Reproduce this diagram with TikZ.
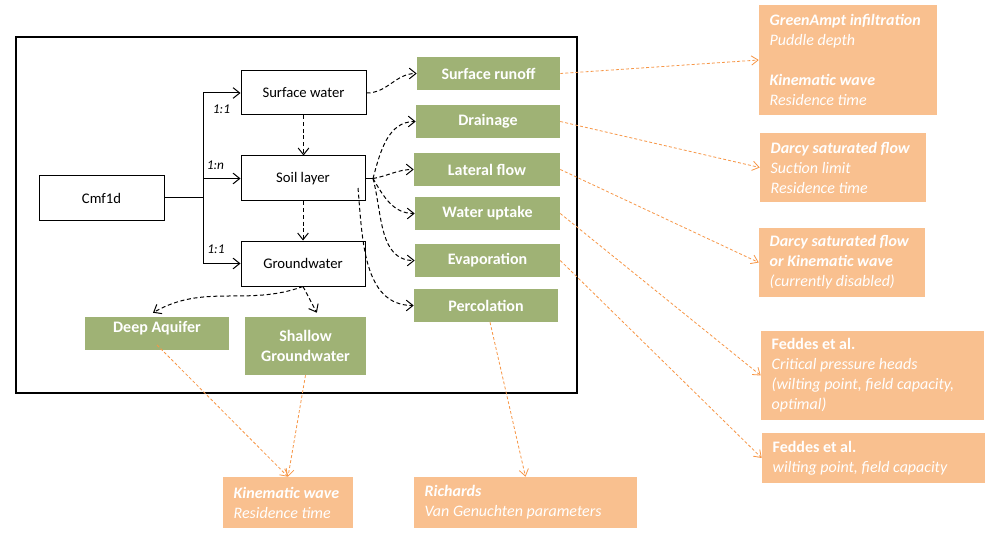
\documentclass[tikz,border=0pt]{standalone}
\usepackage{fontspec}
\setmainfont{Carlito}
\usetikzlibrary{arrows.meta,fit}
\definecolor{gfill}{HTML}{9FB275}
\definecolor{ofill}{HTML}{F9C08F}
\definecolor{oline}{HTML}{F79646}
\begin{document}
\begin{tikzpicture}[x=0.75pt,y=-0.75pt,
 bbox/.style={draw,line width=0.75pt,inner sep=0pt,font=\fontsize{11}{13}\selectfont},
 gbox/.style={fill=gfill,inner sep=0pt,text=white,font=\bfseries\fontsize{12}{15}\selectfont,align=center},
 gtext/.style={inner sep=0pt,text=white,font=\bfseries\fontsize{12}{15}\selectfont},
 obox/.style={fill=ofill,inner sep=0pt},
 otext/.style={text=white,font=\itshape\fontsize{12}{15}\selectfont,align=left,inner sep=0pt,anchor=west},
 lbl/.style={font=\itshape\fontsize{10}{12}\selectfont,inner sep=0pt},
 link/.style={line width=0.75pt,-{Straight Barb[length=5pt,width=8pt]}},
 dlink/.style={line width=0.75pt,dash pattern=on 3pt off 2pt,-{Straight Barb[length=5pt,width=8pt]}},
 olink/.style={oline,line width=0.6pt,dash pattern=on 2.2pt off 1.6pt,-{Straight Barb[length=5pt,width=7pt]}}
]
\fill[white] (0,0) rectangle (994,538);
\useasboundingbox (0,0) rectangle (994,538);

% frame
\node[draw,line width=1pt,inner sep=0pt,fit={(16,37)(577,393)}] (frame) {};

% black boxes
\node[bbox,minimum width=93.75pt,minimum height=33pt] (cmf) at (101.5,198) {Cmf1d};
\node[bbox,minimum width=93.75pt,minimum height=33pt] (sw) at (303.5,93) {Surface water};
\node[bbox,minimum width=93pt,minimum height=33.75pt] (soil) at (303,178.5) {Soil layer};
\node[bbox,minimum width=93pt,minimum height=33.75pt] (gw) at (303,263.5) {Groundwater};

\node[lbl] (r1) at (221.5,109) {1:1};
\node[lbl] (r2) at (215.5,165) {1:n};
\node[lbl] (r3) at (216,249) {1:1};

% green boxes
\node[gbox,minimum width=107.25pt,minimum height=24.75pt] (runoff) at (488.5,73.5) {Surface runoff};
\node[gbox,minimum width=108pt,minimum height=24.75pt] (drain) at (488,121.5) {Drainage};
\node[gbox,minimum width=109.5pt,minimum height=24.75pt] (lateral) at (487,169.5) {Lateral flow};
\node[gbox,minimum width=108.75pt,minimum height=24.75pt] (uptake) at (487.5,213.5) {Water uptake};
\node[gbox,minimum width=108.75pt,minimum height=24.75pt] (evap) at (487.5,260.5) {Evaporation};
\node[gbox,minimum width=108pt,minimum height=24.75pt] (perc) at (486,305.5) {Percolation};
\node[gbox,fit={(85,317)(229,350)}] (deep) {};
\node[gtext] (deeptxt) at (157,328) {Deep Aquifer};
\node[gbox,minimum width=90.75pt,minimum height=43.5pt] (shallow) at (305.5,346) {Shallow\\Groundwater};

% orange boxes
\node[obox,fit={(759,5)(937,115)}] (o1) {};
\node[otext] (t1) at ([xshift=8pt]o1.west) {\textbf{GreenAmpt infiltration}\\Puddle depth\\[15pt]\textbf{Kinematic wave}\\Residence time};
\node[obox,fit={(760,133)(926,202)}] (o2) {};
\node[otext] (t2) at ([xshift=8pt]o2.west) {\textbf{Darcy saturated flow}\\Suction limit\\Residence time};
\node[obox,fit={(759,228)(925,297)}] (o3) {};
\node[otext] (t3) at ([xshift=8pt]o3.west) {\textbf{Darcy saturated flow}\\\textbf{or Kinematic wave}\\(currently disabled)};
\node[obox,fit={(761,331)(984,420)}] (o4) {};
\node[otext] (t4) at ([xshift=8pt]o4.west) {\textbf{\upshape Feddes et al.}\\Critical pressure heads\\(wilting point, field capacity,\\optimal)};
\node[obox,fit={(762,433)(985,483)}] (o5) {};
\node[otext] (t5) at ([xshift=8pt]o5.west) {\textbf{\upshape Feddes et al.}\\wilting point, field capacity};
\node[obox,fit={(223,477)(353,528)}] (kin) {};
\node[otext] (t6) at ([xshift=8pt]kin.west) {\textbf{Kinematic wave}\\Residence time};
\node[obox,fit={(414,477)(637,528)}] (rich) {};
\node[otext] (t7) at ([xshift=8pt]rich.west) {\textbf{Richards}\\Van Genuchten parameters};

% solid links from Cmf1d
\coordinate (j) at (203,198);
\draw[line width=0.75pt] (cmf.east) -- (j);
\draw[link] (j) |- (sw.west);
\draw[link] (j) |- (soil.west);
\draw[link] (j) |- (gw.west);

% black dashed links
\draw[dlink] (sw.east) to[out=0,in=180] (runoff.west);
\draw[dlink] (sw.south) -- (sw.south |- soil.north);
\draw[dlink] (soil.south) -- (soil.south |- gw.north);
\coordinate (hub) at (373,178.5);
\draw[line width=0.75pt] (soil.east) -- (hub);
\draw[dlink] (hub) to[out=75,in=180] (drain.west);
\draw[dlink] (hub) to[out=10,in=180] (lateral.west);
\draw[dlink] (hub) to[out=-60,in=180] (uptake.west);
\draw[dlink] (hub) to[out=-75,in=180] (evap.west);
\coordinate (pst) at (358,188);
\draw[dlink] (pst) to[out=-85,in=180] (perc.west);
\draw[dlink] (gw.south) to[out=200,in=30] ([xshift=-3pt,yshift=3pt]deep.north);
\draw[dlink] (gw.south) -- ([xshift=8.5pt,yshift=3pt]shallow.north);

% orange links
\draw[olink] (runoff.east) -- (o1.west);
\draw[olink] (drain.east) -- (o2.west);
\draw[olink] (lateral.east) -- (o3.west);
\draw[olink] (uptake.east) -- (o4.west);
\draw[olink] (evap.east) -- (o5.west);
\draw[olink] ([xshift=3pt]perc.south) -- (rich.north);
\draw[olink] ([yshift=4pt]deep.south) -- (kin.north);
\draw[olink] (shallow.south) -- (kin.north);
\end{tikzpicture}
\end{document}
